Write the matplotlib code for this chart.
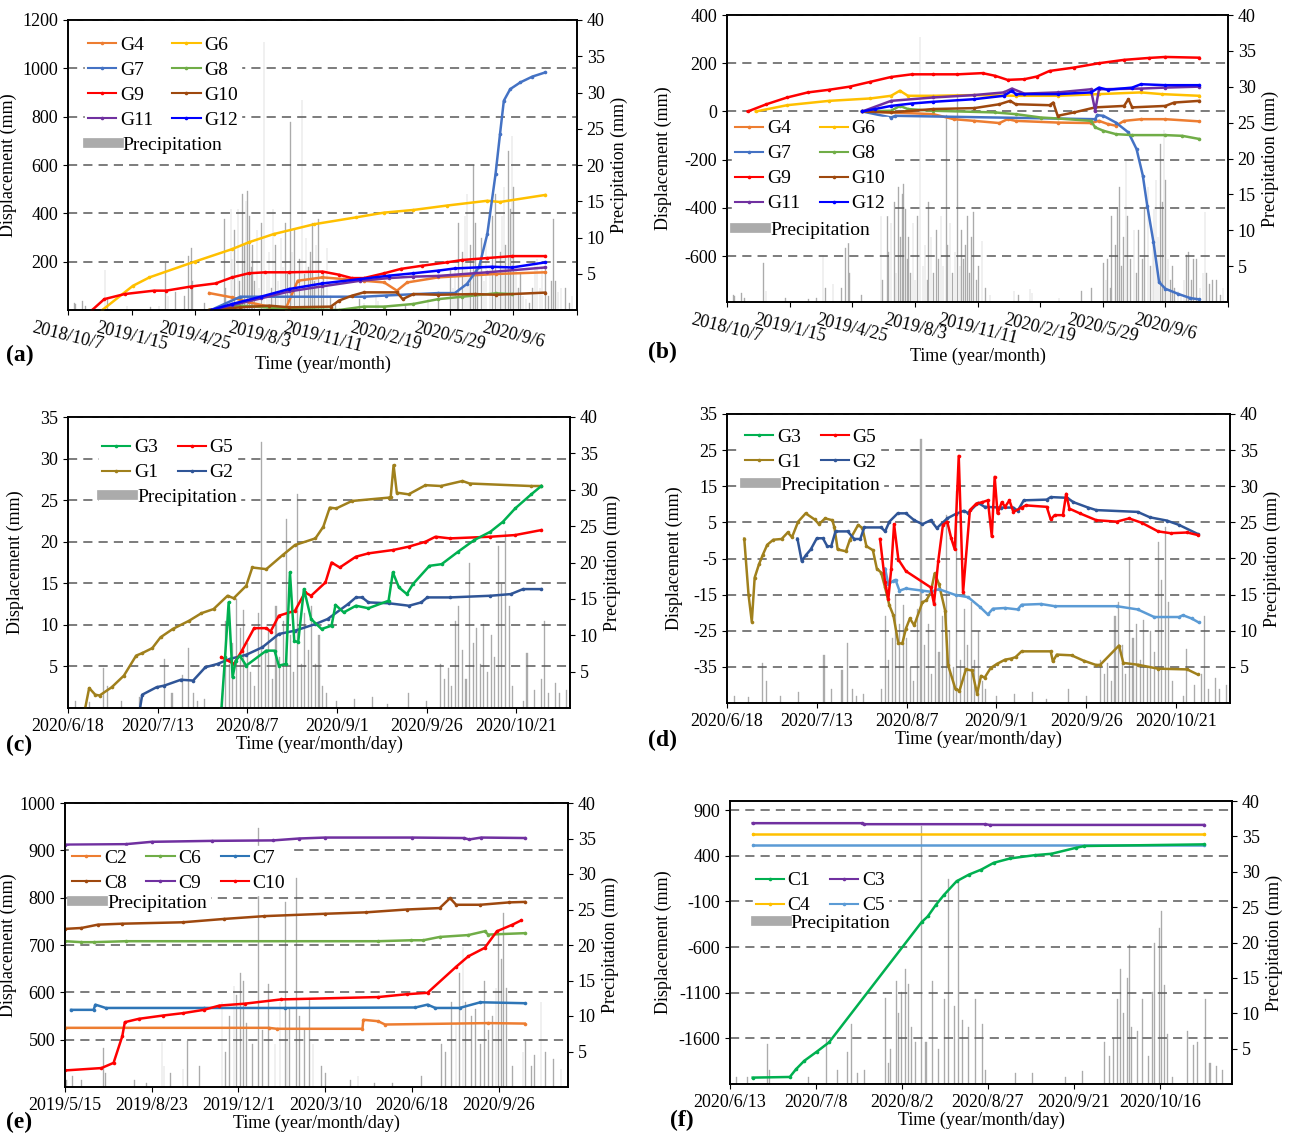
import numpy as np
import pandas as pd
import matplotlib
matplotlib.use('Agg')
import matplotlib.pyplot as plt
from matplotlib.lines import Line2D

plt.rcParams['font.family'] = ['Liberation Serif', 'DejaVu Serif']
plt.rcParams['font.size'] = 13
plt.rcParams['axes.unicode_minus'] = False

RAIN_COLOR = '#ABABAB'

###########################################
# data : x values are days after the panel start date

# panels (a) and (b), start 2018/10/7
AB_START = '2018/10/7'
AB_END = '2020/12/15'
ab_ticks = ['2018/10/7', '2019/1/15', '2019/4/25', '2019/8/3', '2019/11/11',
            '2020/2/19', '2020/5/29', '2020/9/6', '2020/12/15']
ab_labels = ab_ticks[:-1] + ['']

G4_a_day = [222, 258, 284, 316, 342, 361, 400, 433, 465, 497, 517, 533, 582, 672, 750]
G4_a = [70, 52, 32, 14, 4, 121, 135, 128, 121, 114, 80, 114, 135, 149, 156]
G6_a_day = [54, 102, 128, 199, 258, 284, 323, 387, 452, 497, 543, 595, 659, 679, 750]
G6_a = [0, 100, 135, 200, 252, 280, 314, 355, 383, 403, 414, 432, 452, 447, 476]
G7_a_day = [225, 271, 465, 500, 582, 608, 627, 646, 659, 672, 679, 685, 695, 711, 730, 750]
G7_a = [0, 55, 55, 60, 70, 70, 108, 177, 314, 563, 728, 866, 914, 942, 966, 983]
G8_a_day = [222, 271, 348, 426, 465, 497, 543, 582, 620, 672, 698]
G8_a = [0, 18, 4, 0, 14, 14, 25, 45, 55, 69, 66]
G9_a_day = [38, 57, 89, 135, 154, 193, 232, 258, 284, 310, 348, 400, 426, 446, 465,
            497, 523, 556, 595, 620, 659, 698, 750]
G9_a = [0, 45, 66, 80, 80, 97, 110, 135, 152, 156, 156, 159, 146, 132, 132,
        152, 170, 183, 197, 207, 215, 223, 223]
G10_a_day = [222, 271, 316, 348, 413, 426, 446, 465, 517, 526, 543, 582, 640, 672, 750]
G10_a = [0, 11, 18, 11, 14, 39, 59, 73, 73, 45, 66, 63, 66, 63, 72]
G11_a_day = [225, 258, 303, 348, 400, 459, 504, 543, 582, 659, 750]
G11_a = [0, 20, 48, 77, 98, 121, 132, 138, 141, 156, 176]
G12_a_day = [225, 258, 303, 348, 400, 459, 504, 543, 582, 608, 666, 698, 750]
G12_a = [0, 25, 55, 87, 110, 128, 142, 152, 163, 172, 179, 176, 197]

G4_b_day = [216, 262, 329, 362, 395, 435, 448, 461, 528, 581, 594, 608, 621, 634, 661, 700, 754]
G4_b = [0, -4, -11, -32, -39, -48, -32, -39, -46, -48, -39, -52, -59, -39, -32, -32, -41]
G6_b_day = [46, 96, 163, 229, 262, 276, 289, 329, 395, 461, 528, 594, 661, 694, 754]
G6_b = [0, 26, 44, 54, 65, 86, 65, 65, 68, 65, 65, 72, 79, 72, 65]
G7_b_day = [216, 262, 269, 588, 591, 601, 621, 641, 654, 664, 671, 681, 690, 700, 720, 740, 754]
G7_b = [0, -25, -18, -32, -15, -18, -46, -87, -156, -266, -390, -542, -708, -735, -756, -774, -779]
G8_b_day = [216, 262, 276, 289, 329, 428, 461, 501, 528, 581, 588, 601, 621, 647, 700, 727, 754]
G8_b = [0, 3, 23, 10, 3, -4, -11, -25, -29, -39, -66, -80, -94, -98, -98, -101, -114]
G9_b_day = [33, 63, 96, 129, 163, 196, 229, 262, 295, 329, 368, 408, 428, 448, 475,
            495, 515, 554, 594, 634, 674, 700, 754]
G9_b = [0, 30, 58, 79, 90, 103, 123, 143, 154, 154, 154, 159, 148, 131, 134,
        145, 168, 182, 200, 214, 222, 226, 223]
G10_b_day = [216, 262, 329, 395, 435, 452, 461, 515, 521, 528, 554, 588, 634, 641, 647, 700, 714, 754]
G10_b = [0, -4, 10, 14, 30, 44, 30, 26, 37, -18, -4, 17, 23, 51, 17, 23, 37, 44]
G11_b_day = [216, 262, 329, 395, 442, 455, 475, 528, 581, 588, 594, 661, 700, 754]
G11_b = [0, 44, 58, 68, 79, 95, 74, 79, 92, 3, 92, 95, 99, 103]
G12_b_day = [216, 236, 262, 295, 329, 395, 442, 455, 461, 528, 581, 594, 608, 647, 661, 700, 754]
G12_b = [0, 10, 23, 33, 40, 51, 65, 86, 72, 72, 79, 99, 90, 99, 113, 109, 109]

rain_ab_day = [10, 12, 23, 28, 58, 62, 93, 130, 143, 153, 157, 169, 183, 189, 194, 196, 215,
               246, 248, 256, 258, 262, 267, 270, 274, 277, 280, 282, 285, 288, 290, 293, 297,
               300, 304, 308, 313, 316, 320, 322, 326, 330, 335, 338, 342, 345, 350, 352, 356,
               360, 364, 368, 372, 374, 378, 381, 384, 387, 390, 394, 398, 402, 407, 413, 420,
               458, 465, 484, 487, 530, 566, 582, 601, 605, 608, 612, 614, 620, 624, 627, 630,
               633, 637, 640, 644, 650, 654, 657, 663, 667, 672, 676, 680, 682, 685, 688, 692,
               695, 698, 700, 704, 708, 711, 715, 720, 725, 730, 734, 737, 742, 745, 750, 755,
               760, 763, 766, 770, 775, 782, 788, 792]
rain_ab_mm = [1, 0.8, 1.2, 0.6, 5.5, 1.5, 0.5, 0.4, 0.5, 6.5, 2, 2.5, 2, 7.5, 8.5, 4, 1,
              12.5, 3, 14, 7, 11, 14, 4, 16, 9, 15, 16.4, 13, 6, 9, 4, 11,
              3, 12, 37, 5, 8, 3, 14, 9, 4, 10, 6, 12, 5, 26, 8, 11,
              4, 7, 29, 5, 10, 6, 8, 12, 4, 9, 12.5, 3, 5, 8.5, 2, 1,
              1.5, 1, 1.8, 1.2, 0.5, 1.5, 2, 5.5, 3, 6, 2, 12, 8, 13, 16, 5,
              9, 20, 12, 6, 10, 4, 10, 6, 13, 16, 5, 8, 13, 17, 9, 22,
              14, 24, 17, 6, 3, 5, 2, 1.5, 1, 3, 6.5, 7, 3, 6, 6, 2,
              4, 12.5, 4, 2.5, 3, 3, 1, 2]

# panels (c) and (d), start 2020/6/18
CD_START = '2020/6/18'
CD_END = '2020/11/5'
cd_ticks = ['2020/6/18', '2020/7/13', '2020/8/7', '2020/9/1', '2020/9/26', '2020/10/21']

G1_c_day = [4.8, 5.9, 7.6, 8.8, 12.2, 15.6, 19, 20.7, 23.5, 25.8, 29.2, 33.8, 37.2, 40.6, 44.5,
            46.2, 49.7, 51.4, 55.3, 59.9, 63.3, 69, 71.2, 73, 74.8, 79.2, 89.4, 90, 90.8, 91.7,
            95, 99.7, 104, 110, 112, 129, 132]
G1_c = [0, 2.4, 1.6, 1.5, 2.5, 3.9, 6.3, 6.6, 7.2, 8.5, 9.5, 10.5, 11.4, 11.9, 13.5,
        13.2, 14.7, 16.9, 16.7, 18.4, 19.6, 20.4, 21.8, 24.1, 24.0, 24.9, 25.3, 25.4, 29.2, 25.9,
        25.7, 26.8, 26.7, 27.3, 27.0, 26.7, 26.7]
G5_c_day = [42.8, 46.3, 48.5, 51.9, 55.3, 56.5, 58.8, 63.3, 66.1, 67.8, 71.8, 73.5, 75.8, 80.3,
            83.8, 90.6, 95, 99.7, 102.5, 106.5, 117.8, 124.7, 132]
G5_c = [6.1, 5.3, 6.9, 9.6, 9.6, 9.2, 11.1, 11.7, 13.9, 13.5, 15.1, 17.5, 16.9, 18.2,
        18.6, 19.0, 19.4, 20.0, 20.6, 20.4, 20.6, 20.8, 21.4]
G3_c_day = [42.8, 43.8, 44.8, 45.9, 46.8, 47.9, 49.7, 55.3, 57.6, 58.8, 60.8, 61.9, 63.1, 64.2,
            65.8, 67.8, 70.7, 73.5, 74.6, 76.9, 80.3, 83.8, 89.4, 90.6, 92.3, 94.5, 96.2, 100.8,
            104.2, 108.8, 113.3, 117.8, 121.3, 124.7, 129.2, 132]
G3_c = [0, 6.1, 12.7, 3.7, 5.7, 6.3, 5.1, 6.9, 6.9, 5.1, 5.3, 16.3, 8.1, 7.9,
        14.3, 10.7, 9.5, 9.9, 12.4, 11.5, 12.3, 12.0, 12.9, 16.3, 14.5, 13.7, 14.9, 17.1,
        17.3, 18.8, 20.2, 21.2, 22.4, 24.0, 25.7, 26.7]
G2_c_day = [20.1, 20.7, 24.7, 26.9, 31.5, 34.9, 38.3, 41.7, 45.1, 49.7, 54.2, 58.8, 63.3, 69,
            72.4, 78.1, 80.3, 82, 83.8, 89.4, 95.1, 98.5, 100.2, 106.5, 117.8, 123.5, 126.9, 132]
G2_c = [0, 1.6, 2.5, 2.7, 3.4, 3.3, 4.9, 5.3, 5.9, 6.4, 7.3, 8.9, 9.3, 10.1,
        10.7, 12.5, 13.3, 13.3, 12.7, 12.6, 12.3, 12.7, 13.3, 13.3, 13.5, 13.7, 14.3, 14.3]

G1_d_day = [4.8, 6, 6.9, 7.7, 8.9, 10, 11.2, 12.9, 15.2, 16.9, 18.1, 19.8, 21.9, 24.4, 25.6,
            27.3, 29.3, 29.9, 30.8, 33.1, 34.2, 36.5, 37.7, 38.8, 40.6, 41.7, 42.9, 44, 45.2,
            46.3, 47.7, 48.8, 49.8, 50.9, 52.1, 54.4, 55.5, 56.7, 57.8, 59, 60.7, 61.5, 63.6,
            64.7, 66.5, 68.2, 69.6, 70.7, 71.7, 73.4, 75.1, 77.4, 79.1, 80.3, 82, 90.1, 90.7,
            91.8, 95.9, 99.3, 102.8, 103.9, 109.1, 110.3, 114.3, 120, 128.1, 131]
G1_d = [0.5, -15.1, -22.5, -10.3, -6.6, -3.9, -1.2, 0.2, 0.4, 2.2, 0.9, 5.2, 7.5, 5.8, 4.5,
        6.1, 5.6, 3.6, -2.5, -3.0, 0.2, 4.3, 3.4, -1.6, -2.7, -7.8, -8.9, -13.0, -18.0,
        -20.7, -28.5, -28.5, -24.4, -21.6, -23.5, -17.1, -16.6, -14.4, -9.1, -12.1, -19.4, -34.4, -41.2,
        -41.6, -35.7, -36.0, -42.4, -37.5, -38.0, -35.3, -34.2, -33.0, -32.7, -32.3, -30.7, -30.7, -33.5,
        -31.6, -31.8, -33.3, -34.5, -34.4, -29.1, -33.9, -34.4, -35.5, -35.7, -37.1]
G2_d_day = [19.6, 20.8, 22.1, 23.3, 25, 26.7, 27.9, 29, 30.2, 33.6, 35.4, 37.1, 38.2, 42.9,
            44, 45.2, 47.5, 49.8, 52.1, 54.4, 56.7, 58.4, 61.3, 63.6, 65.9, 67.1, 69.9, 71.7,
            76.3, 79.7, 80.9, 82.6, 89, 90.1, 94.7, 96.4, 100.5, 102.8, 114.3, 117.7, 122.4,
            125.8, 131]
G2_d = [0.5, -5.7, -3.9, -2.5, 0.6, 0.6, -1.6, -1.6, 2.5, 2.5, 0.4, 0.4, 3.6, 3.6,
        2.5, 5.2, 7.5, 7.5, 5.6, 4.5, 5.6, 3.4, 6.1, 7.3, 8.2, 7.6, 10.4, 9.3,
        9.1, 9.1, 8.2, 11.1, 11.3, 12.0, 11.8, 10.6, 9.1, 8.4, 7.9, 6.4, 5.5,
        4.3, 1.8]
G5_d_day = [42.6, 44, 44.9, 45.7, 46.5, 47.7, 49.8, 56.7, 57.6, 58.8, 60.1, 61.3, 62.4, 63.4,
            64.5, 65.7, 67.6, 69.4, 71.1, 72.6, 73.7, 74.5, 75.3, 76.5, 77.4, 78.6, 79.7, 82,
            83.2, 89, 90.1, 91.2, 93.5, 94.4, 95.3, 98.2, 102.8, 108.5, 111.9, 115.4, 120,
            123.5, 128.1, 131]
G5_d = [0.4, -11.6, -16.2, -8.0, 4.5, -5.3, -8.5, -13.0, -17.5, -5.7, 4.3, 5.2, 0.6, -2.5,
        23.4, -14.4, 8.4, 10.2, 10.6, 11.1, 1.1, 17.6, 7.5, 10.6, 9.3, 11.1, 7.9, 9.1,
        9.7, 9.3, 5.8, 7.0, 7.0, 12.9, 8.8, 7.5, 5.6, 5.2, 6.1, 4.9, 2.5,
        2.0, 2.2, 1.5]
G3_d_day = [44, 44.9, 46.3, 46.9, 48, 49.8, 54.4, 56.7, 59, 63.6, 67.1, 70.5, 72.6, 74, 77.4,
            80.9, 82, 87.4, 91.2, 108.5, 114.3, 118.9, 125.8, 126.9, 129.3, 131.3]
G3_d = [-7.8, -12.1, -11.2, -10.9, -13.9, -13.3, -13.9, -14.2, -13.5, -15.1, -15.7, -18.5,
        -20.5, -18.9, -18.7, -19.1, -17.8, -17.6, -18.2, -18.2, -19.1, -21.2, -21.2, -20.7,
        -21.6, -22.7]

rain_cd_day = [2, 6, 10, 11, 15, 20, 27, 29, 32, 33.5, 35, 36, 38, 43, 44, 45, 46, 47, 48, 49,
               50, 51, 52, 53, 54, 55, 56, 57, 58, 59, 60, 61, 62, 63, 64, 65, 66, 67, 68, 69,
               70, 71, 72, 75, 80, 85, 89, 95, 100, 104, 105, 106, 107, 108, 109, 110, 111, 112,
               113, 114, 115, 116, 117, 118, 119, 120, 121, 122, 123, 124, 127, 128, 130, 132,
               133, 134, 136, 137, 139]
rain_cd_mm = [1, 0.8, 5.5, 3, 1, 1.5, 6.7, 2, 4.5, 8.3, 2, 1, 1.2, 2, 12, 6, 9, 15, 11, 13.5,
              9, 5, 3, 13, 36.6, 8, 11, 4, 14, 7, 12, 26, 10, 5, 29.4, 6, 13, 8, 14, 6,
              10, 3, 2, 1, 1.3, 1.5, 0.6, 2, 1, 6, 4, 5.5, 3, 12, 14, 8, 4, 20,
              9, 11, 6, 11.5, 5, 10, 7, 22.3, 17, 24.3, 14, 3, 1, 7.5, 2.5, 4,
              12, 2, 3.5, 2, 2.5]

# panel (e), start 2019/5/15
E_START = '2019/5/15'
E_END = '2020/12/15'
e_ticks = ['2019/5/15', '2019/8/23', '2019/12/1', '2020/3/10', '2020/6/18', '2020/9/26']

C2_e_day = [0, 235, 244, 343, 344, 361, 369, 488, 530]
C2_e = [525, 525, 523, 523, 542, 539, 532, 535, 534]
C6_e_day = [0, 19, 33, 70, 361, 399, 413, 432, 465, 484, 488, 530]
C6_e = [708, 706, 706, 708, 708, 710, 710, 717, 721, 729, 722, 725]
C7_e_day = [7, 33, 35, 47, 160, 254, 404, 418, 427, 455, 479, 530]
C7_e = [563, 563, 574, 567, 567, 567, 568, 574, 567, 567, 579, 577]
C8_e_day = [0, 19, 38, 66, 136, 183, 230, 300, 347, 394, 432, 444, 451, 479, 512, 530]
C8_e = [734, 736, 743, 745, 748, 755, 761, 766, 769, 775, 778, 799, 785, 785, 790, 791]
C9_e_day = [0, 70, 100, 170, 240, 270, 300, 400, 460, 466, 480, 530]
C9_e = [912, 913, 918, 920, 921, 925, 927, 927, 926, 923, 927, 926]
C10_e_day = [0, 42, 56, 66, 69, 85, 113, 136, 160, 178, 207, 249, 361, 394, 418, 451, 465,
             484, 498, 516, 526]
C10_e = [435, 440, 451, 507, 537, 544, 551, 556, 563, 572, 576, 585, 590, 596, 599, 654, 676,
         694, 729, 743, 752]

rain_e_day = [2, 9, 19, 44, 47, 80, 94, 112, 114, 122, 136, 141, 155, 181, 185, 190, 195, 198,
              202, 206, 209, 216, 223, 228, 235, 242, 248, 254, 256, 259, 267, 270, 276, 282,
              286, 296, 300, 329, 338, 357, 378, 411, 434, 439, 446, 451, 455, 459, 462, 469,
              473, 479, 484, 488, 493, 497, 500, 503, 506, 509, 516, 528, 531, 538, 541, 549,
              554, 563, 572]
rain_e_mm = [1, 1.5, 1, 5.5, 2, 1, 0.5, 6.3, 3, 2, 2.5, 6.5, 3, 12, 5, 10, 14.2, 13,
             16, 15, 9, 6, 36.5, 8, 14.5, 6, 12, 26, 8, 11, 29.5, 10, 8, 12.5,
             6, 3, 2, 1, 1.5, 0.5, 0.5, 1.5, 6, 5, 12, 9, 16, 19.7, 12, 10,
             11, 6, 15, 8, 10, 14, 21.5, 18, 24.5, 14, 3, 5, 6.5, 3, 4.5, 12,
             5, 4, 2.5]

# panel (f), start 2020/6/13
F_START = '2020/6/13'
F_END = '2020/11/6'
f_ticks = ['2020/6/13', '2020/7/8', '2020/8/2', '2020/8/27', '2020/9/21', '2020/10/16']

C1_f_day = [6.6, 17.4, 19.2, 21.6, 25.2, 28.8, 55.7, 57.5, 59.9, 62.3, 65.9, 69.5, 73.1, 76.7,
            81.5, 88.7, 93.5, 100.7, 103.1, 137.8]
C1_f = [-2030, -2023, -1938, -1846, -1747, -1644, -328, -265, -137, -26, 121, 194, 249, 323,
        371, 407, 422, 488, 507, 525]
C3_f_day = [6.6, 38.4, 39, 74.3, 75.5, 137.8]
C3_f = [757, 757, 746, 746, 738, 738]
C4_f_day = [6.6, 137.8]
C4_f = [643, 643]
C5_f_day = [6.6, 137.8]
C5_f = [514, 514]

rain_f_day = [2, 5, 10.8, 11.5, 22.8, 28.2, 31.2, 34.2, 35.4, 37, 39, 45.2, 46, 46.7, 48.5,
              49.1, 50, 51, 51.8, 52.7, 53.9, 55.8, 57, 59, 60.5, 62.3, 63.5, 65.3, 66.5,
              67.7, 69.5, 71.3, 73.5, 74.3, 82.9, 88, 97.7, 102.5, 108.8, 110.3, 111.5, 112.7,
              113.6, 114.5, 115.7, 116.2, 116.9, 118.6, 120.1, 121.6, 122.8, 123.6, 124.9,
              125.6, 126.4, 127.3, 128.8, 133, 134.8, 136, 138.4, 139.6, 141.4, 143.2]
rain_f_mm = [1, 1, 5.7, 2, 1, 6.5, 2, 4.5, 8.5, 1.5, 2, 12.2, 3, 5, 14.5,
             10, 13, 16.3, 14.2, 8, 6, 36.5, 6, 14.5, 5, 12, 29, 11, 28.5,
             9, 8, 12, 8.5, 2, 1.5, 1.5, 1, 1.8, 6, 4, 6.5, 12,
             16.3, 10, 15, 19.7, 8, 7.5, 12, 4, 13, 20, 22,
             24.5, 14, 7, 1, 7.5, 5.5, 6, 12, 3, 2.5, 2]

###########################################

cols = {'G4': '#ED7D31', 'G6': '#FFC000', 'G7': '#4472C4', 'G8': '#70AD47',
        'G9': '#FF0000', 'G10': '#9E480E', 'G11': '#7030A0', 'G12': '#0000FF',
        'G1': '#A0801C', 'G2': '#2F5597', 'G3': '#00B050', 'G5': '#FF0000',
        'G3d': '#5B9BD5',
        'C1': '#00B050', 'C2': '#ED7D31', 'C3': '#7030A0', 'C4': '#FFC000',
        'C5': '#5B9BD5', 'C6': '#70AD47', 'C7': '#2E75B6', 'C8': '#9E480E',
        'C9': '#7030A0', 'C10': '#FF0000'}

fig = plt.figure(figsize=(12.91, 11.36), dpi=100)


def to_dates(start, days):
    return pd.Timestamp(start) + pd.to_timedelta(np.asarray(days, dtype=float), unit='D')


def panel(rect, start, end, ticks, labels, rot, lines, rain_day, rain_mm, bar_w,
          ylim, yticks, leg_order, ncol, leg_xy, rain_y, ylab_x):
    ax = fig.add_axes(rect)
    ax2 = ax.twinx()
    ax2.bar(to_dates(start, rain_day), rain_mm, width=bar_w, color=RAIN_COLOR,
            edgecolor=RAIN_COLOR, lw=0.25)
    ax2.set_ylim(0, 40)
    ax2.set_yticks(range(5, 45, 5))
    ax2.set_ylabel('Precipitation (mm)')
    ax.set_zorder(ax2.get_zorder() + 1)
    ax.patch.set_visible(False)

    for name, days, vals in lines:
        ax.plot(to_dates(start, days), vals, color=cols[name], lw=1.8,
                marker='o', ms=2.6, mew=0)

    ax.set_xlim(pd.Timestamp(start), pd.Timestamp(end))
    ax.set_ylim(*ylim)
    ax.set_yticks(yticks)
    ax.yaxis.grid(True, linestyle=(0, (6, 4)), color='0.35', lw=1.1)
    ax.set_axisbelow(True)
    ax.set_xticks(pd.to_datetime(ticks, format='%Y/%m/%d'))
    if rot:
        ax.set_xticklabels(labels, rotation=-14, ha='center')
        ax.set_xlabel('Time (year/month)', labelpad=0)
    else:
        ax.set_xticklabels(labels)
        ax.set_xlabel('Time (year/month/day)', labelpad=1)
    ax.set_ylabel('Displacement (mm)')
    ax.yaxis.set_label_coords(ylab_x, 0.5)
    for a in (ax, ax2):
        for s in a.spines.values():
            s.set_linewidth(1.2)

    handles = []
    for name in leg_order:
        handles.append(Line2D([], [], color=cols[name], lw=1.5, marker='o', ms=2.6,
                              mew=0, label=name))
    leg = ax.legend(handles=handles, ncol=ncol, loc='upper left', bbox_to_anchor=leg_xy,
                    borderaxespad=0, frameon=True, fancybox=False, framealpha=1,
                    edgecolor='white', fontsize=14, handlelength=1.45, handletextpad=0.2,
                    columnspacing=1.0, labelspacing=0.38, borderpad=0.15)
    leg.set_zorder(10)
    ax.add_artist(leg)
    rain_h = Line2D([], [], color=RAIN_COLOR, lw=7, label='Precipitation')
    leg2 = ax.legend(handles=[rain_h], loc='center left',
                     bbox_to_anchor=(leg_xy[0], rain_y), borderaxespad=0, frameon=True,
                     fancybox=False, framealpha=1, edgecolor='white', fontsize=14,
                     handlelength=1.6, handletextpad=0.2, borderpad=0.15)
    leg2.set_zorder(10)
    return ax


W = 1291.0
H = 1136.0


def rect(l, r, t, b):
    return [l / W, 1 - b / H, (r - l) / W, (b - t) / H]


# (a)
panel(rect(68, 577, 20, 310), AB_START, AB_END, ab_ticks, ab_labels, True,
      [('G4', G4_a_day, G4_a), ('G6', G6_a_day, G6_a), ('G7', G7_a_day, G7_a),
       ('G8', G8_a_day, G8_a), ('G9', G9_a_day, G9_a), ('G10', G10_a_day, G10_a),
       ('G11', G11_a_day, G11_a), ('G12', G12_a_day, G12_a)],
      rain_ab_day, rain_ab_mm, 1.0, (0, 1200), range(200, 1201, 200),
      ['G4', 'G7', 'G9', 'G11', 'G6', 'G8', 'G10', 'G12'], 2,
      (0.033, 0.955), 0.57, -0.1)

# (b)
panel(rect(727, 1228, 15, 302), AB_START, AB_END, ab_ticks, ab_labels, True,
      [('G4', G4_b_day, G4_b), ('G6', G6_b_day, G6_b), ('G7', G7_b_day, G7_b),
       ('G8', G8_b_day, G8_b), ('G9', G9_b_day, G9_b), ('G10', G10_b_day, G10_b),
       ('G11', G11_b_day, G11_b), ('G12', G12_b_day, G12_b)],
      rain_ab_day, rain_ab_mm, 1.0, (-790, 400), range(-600, 401, 200),
      ['G4', 'G7', 'G9', 'G11', 'G6', 'G8', 'G10', 'G12'], 2,
      (0.01, 0.645), 0.25, -0.11)

# (c)
panel(rect(68, 570, 417, 708), CD_START, CD_END, cd_ticks, cd_ticks, False,
      [('G1', G1_c_day, G1_c), ('G2', G2_c_day, G2_c), ('G5', G5_c_day, G5_c),
       ('G3', G3_c_day, G3_c)],
      rain_cd_day, rain_cd_mm, 0.3, (0, 35), range(5, 36, 5),
      ['G3', 'G1', 'G5', 'G2'], 2,
      (0.062, 0.935), 0.725, -0.087)

# (d)
panel(rect(727, 1230, 414, 703), CD_START, CD_END, cd_ticks, cd_ticks, False,
      [('G1', G1_d_day, G1_d), ('G3d', G3_d_day, G3_d), ('G2', G2_d_day, G2_d),
       ('G5', G5_d_day, G5_d)],
      rain_cd_day, rain_cd_mm, 0.3, (-45, 35), range(-35, 36, 10),
      ['G3', 'G1', 'G5', 'G2'], 2,
      (0.03, 0.962), 0.754, -0.088)

# (e)
panel(rect(65, 568, 803, 1087), E_START, E_END, e_ticks, e_ticks, False,
      [('C2', C2_e_day, C2_e), ('C6', C6_e_day, C6_e), ('C7', C7_e_day, C7_e),
       ('C8', C8_e_day, C8_e), ('C9', C9_e_day, C9_e), ('C10', C10_e_day, C10_e)],
      rain_e_day, rain_e_mm, 0.8, (400, 1000), range(500, 1001, 100),
      ['C2', 'C8', 'C6', 'C9', 'C7', 'C10'], 3,
      (0.008, 0.848), 0.648, -0.095)

# (f)
panel(rect(730, 1232, 801, 1084), F_START, F_END, f_ticks, f_ticks, False,
      [('C3', C3_f_day, C3_f), ('C4', C4_f_day, C4_f), ('C5', C5_f_day, C5_f),
       ('C1', C1_f_day, C1_f)],
      rain_f_day, rain_f_mm, 0.3, (-2100, 1000), [900, 400, -100, -600, -1100, -1600],
      ['C1', 'C4', 'C3', 'C5'], 2,
      (0.045, 0.76), 0.569, -0.116)

for tag, x, y in [('(a)', 6, 355), ('(b)', 648, 352), ('(c)', 6, 745),
                  ('(d)', 648, 740), ('(e)', 6, 1122), ('(f)', 670, 1120)]:
    fig.text(x / W, 1 - y / H, tag, fontsize=17, fontweight='bold', va='center', ha='left')

fig.savefig('out.png', dpi=100)
